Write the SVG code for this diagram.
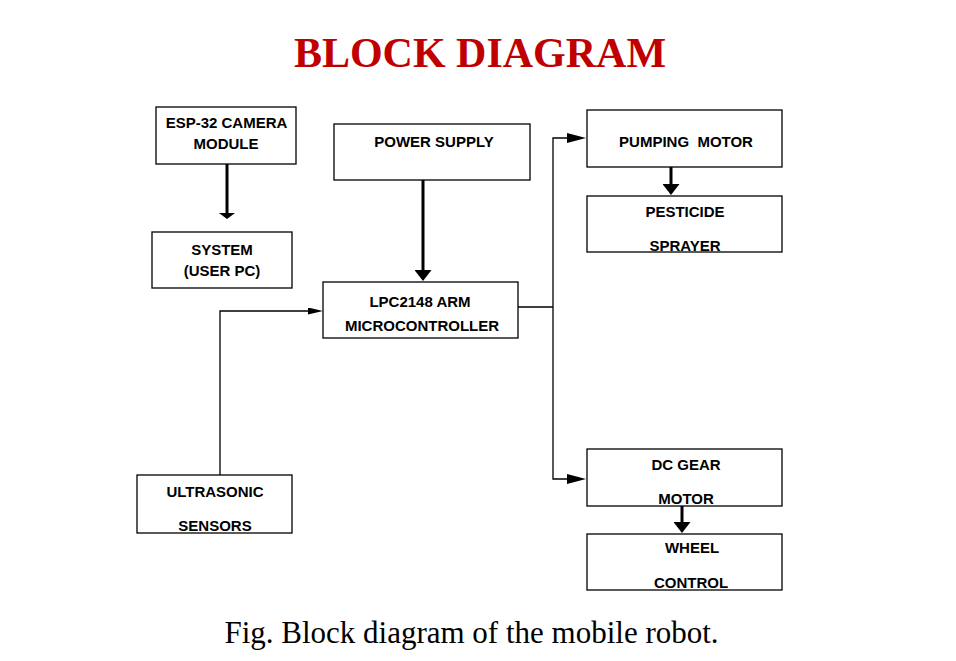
<svg xmlns="http://www.w3.org/2000/svg" width="956" height="661" viewBox="0 0 956 661">
<style>
.box{fill:#fff;stroke:#000;stroke-width:1.3}
.lbl{font-family:"Liberation Sans",Arial,sans-serif;font-weight:bold;font-size:15px;fill:#000;text-anchor:middle;white-space:pre}
.thin{fill:none;stroke:#000;stroke-width:1.3}
.thick{fill:none;stroke:#000;stroke-width:3}
</style>
<defs>
<marker id="small" markerUnits="userSpaceOnUse" viewBox="0 0 15 7" markerWidth="15" markerHeight="7" refX="1" refY="3.5" orient="auto"><path d="M0,0 L15,3.5 L0,7 z" fill="#000"/></marker>
<marker id="hthin" markerUnits="userSpaceOnUse" viewBox="0 0 19 10" markerWidth="19" markerHeight="10" refX="1" refY="5" orient="auto"><path d="M0,0 L19,5 L0,10 z" fill="#000"/></marker>
<marker id="thickhead" markerUnits="userSpaceOnUse" viewBox="0 0 11 17" markerWidth="11" markerHeight="17" refX="1" refY="8.5" orient="auto"><path d="M0,0 L11,8.5 L0,17 z" fill="#000"/></marker>
<marker id="flat" markerUnits="userSpaceOnUse" viewBox="0 0 6 16" markerWidth="6" markerHeight="16" refX="1" refY="8" orient="auto"><path d="M0,0 L6,8 L0,16 z" fill="#000"/></marker>
</defs>
<rect width="956" height="661" fill="#fff"/>
<text x="480" y="67" font-family="'Liberation Serif','Times New Roman',serif" font-weight="bold" font-size="42" fill="#C00000" text-anchor="middle">BLOCK DIAGRAM</text>

<g id="connectors">
<path class="thin" d="M518,307 H553"/>
<path class="thin" d="M553,307 V138 H568" marker-end="url(#hthin)"/>
<path class="thin" d="M553,307 V479 H568" marker-end="url(#hthin)"/>
<path class="thin" d="M220,475 V311 H309" marker-end="url(#small)"/>
<path class="thick" d="M227,164 V214" marker-end="url(#flat)"/>
<path class="thick" d="M423,180 V271" marker-end="url(#thickhead)"/>
<path class="thick" d="M671,167 V185" marker-end="url(#thickhead)"/>
<path class="thick" d="M682,506 V523" marker-end="url(#thickhead)"/>
</g>

<g id="esp32">
<rect class="box" x="156" y="107" width="140" height="57"/>
<text class="lbl" x="226.5" y="128">ESP-32 CAMERA</text>
<text class="lbl" x="226" y="149">MODULE</text>
</g>
<g id="system">
<rect class="box" x="152" y="232" width="140" height="56"/>
<text class="lbl" x="222" y="255">SYSTEM</text>
<text class="lbl" x="222" y="276">(USER PC)</text>
</g>
<g id="power">
<rect class="box" x="334" y="124" width="196" height="56"/>
<text class="lbl" x="434" y="147">POWER SUPPLY</text>
</g>
<g id="lpc">
<rect class="box" x="323" y="282" width="195" height="56"/>
<text class="lbl" x="420" y="307">LPC2148 ARM</text>
<text class="lbl" x="422" y="331">MICROCONTROLLER</text>
</g>
<g id="pumping">
<rect class="box" x="587" y="110" width="195" height="57"/>
<text class="lbl" x="686" y="147">PUMPING  MOTOR</text>
</g>
<g id="pesticide">
<rect class="box" x="587" y="196" width="195" height="56"/>
<text class="lbl" x="685" y="217">PESTICIDE</text>
<text class="lbl" x="685" y="251">SPRAYER</text>
</g>
<g id="dcgear">
<rect class="box" x="587" y="449" width="195" height="57"/>
<text class="lbl" x="686" y="470">DC GEAR</text>
<text class="lbl" x="686" y="504">MOTOR</text>
</g>
<g id="wheel">
<rect class="box" x="587" y="534" width="195" height="56"/>
<text class="lbl" x="692" y="553">WHEEL</text>
<text class="lbl" x="691" y="588">CONTROL</text>
</g>
<g id="ultrasonic">
<rect class="box" x="137" y="475" width="155" height="58"/>
<text class="lbl" x="215" y="497">ULTRASONIC</text>
<text class="lbl" x="215" y="531">SENSORS</text>
</g>

<text x="471.5" y="643" font-family="'Liberation Serif','Times New Roman',serif" font-size="31" fill="#000" text-anchor="middle">Fig. Block diagram of the mobile robot.</text>
</svg>
